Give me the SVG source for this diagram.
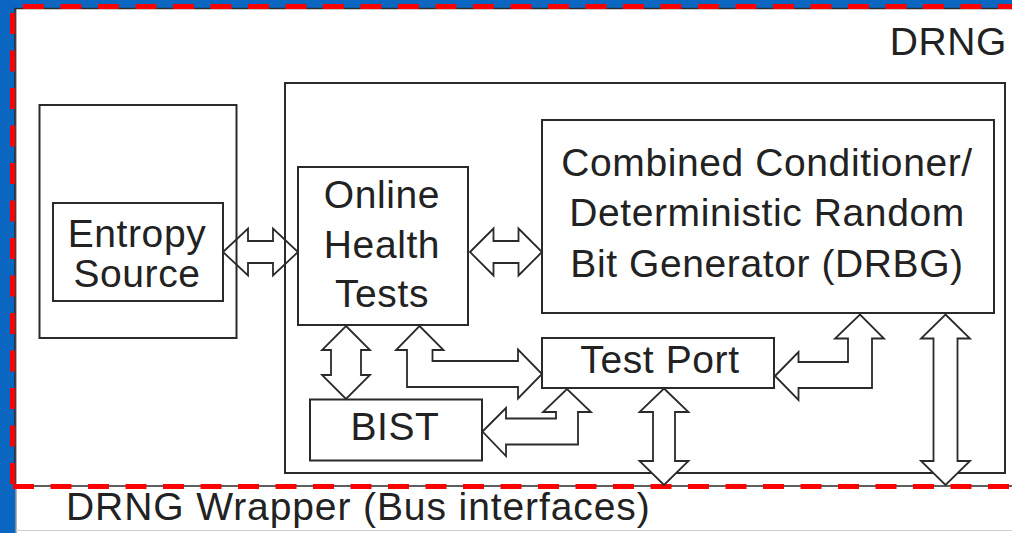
<svg xmlns="http://www.w3.org/2000/svg" width="1012" height="533" viewBox="0 0 1012 533">
  <style>
    .box { fill: #ffffff; stroke: #2a2a2a; stroke-width: 2; }
    .frame { fill: none; stroke: #2a2a2a; stroke-width: 2; }
    .arrow { fill: #ffffff; stroke: #2a2a2a; stroke-width: 1.8; stroke-linejoin: miter; }
    .arrow-open { fill: none; stroke: #2a2a2a; stroke-width: 1.8; }
    .lbl { font-family: "Liberation Sans", Arial, sans-serif; font-size: 39px; fill: #222222; letter-spacing: 0.6px; }
    .mid { text-anchor: middle; }
    .dash { fill: none; stroke: #ff0000; stroke-width: 5; stroke-dasharray: 21 16.5; }
  </style>

  <!-- background -->
  <rect x="0" y="0" width="1012" height="533" fill="#0b66c2"/>
  <rect x="16" y="8" width="996" height="525" fill="#ffffff"/>
  <line x1="16" y1="8" x2="16" y2="533" stroke="#9a9a9a" stroke-width="1.5"/>
  <line x1="16" y1="530.5" x2="1012" y2="530.5" stroke="#cfcfcf" stroke-width="1"/>

  <!-- DRNG wrapper boundary -->
  <g id="drng-wrapper">
    <path d="M1012,8.5 H15 V486 H1012" fill="none" stroke="#2a2a2a" stroke-width="1.5"/>
    <line class="dash" x1="23" y1="6.5" x2="1012" y2="6.5"/>
    <line class="dash" x1="12.5" y1="13" x2="12.5" y2="486"/>
    <line class="dash" x1="13" y1="486.5" x2="1012" y2="486.5"/>
    <text class="lbl" x="66" y="520" style="letter-spacing:0.9px">DRNG Wrapper (Bus interfaces)</text>
  </g>

  <!-- DRNG block -->
  <g id="drng">
    <rect class="frame" x="285" y="83" width="720" height="390"/>
    <text class="lbl" x="1007" y="55" text-anchor="end">DRNG</text>
  </g>

  <g id="entropy-block">
    <rect class="box" x="39.5" y="105" width="197" height="233"/>
  </g>

  <g id="entropy-source">
    <rect class="box" x="53" y="203" width="170" height="98"/>
    <text class="lbl mid" x="137" y="247">Entropy</text>
    <text class="lbl mid" x="137" y="287">Source</text>
  </g>

  <g id="online-health-tests">
    <rect class="box" x="298" y="167" width="170" height="158"/>
    <text class="lbl mid" x="382" y="208">Online</text>
    <text class="lbl mid" x="382" y="258">Health</text>
    <text class="lbl mid" x="382" y="307">Tests</text>
  </g>

  <g id="drbg">
    <rect class="box" x="542" y="120" width="452" height="193"/>
    <text class="lbl mid" x="767" y="176">Combined Conditioner/</text>
    <text class="lbl mid" x="767" y="226">Deterministic Random</text>
    <text class="lbl mid" x="767" y="277">Bit Generator (DRBG)</text>
  </g>

  <g id="test-port">
    <rect class="box" x="542" y="338" width="232" height="50"/>
    <text class="lbl mid" x="660" y="373">Test Port</text>
  </g>

  <g id="bist">
    <rect class="box" x="310" y="399.5" width="172" height="61"/>
    <text class="lbl mid" x="395" y="440">BIST</text>
  </g>

  <!-- connectors (block arrows) -->
  <g id="connectors">
    <polygon class="arrow-open" points="223,252 248,228.5 248,241 273,241 273,228.5 298,252 273,275.5 273,263 248,263 248,275.5"/>
    <polygon class="arrow" points="470,252 493.5,228.5 493.5,241 518.5,241 518.5,228.5 542,252 518.5,275.5 518.5,263 493.5,263 493.5,275.5"/>
    <polygon class="arrow" points="346,326 370,350 361,350 361,375 370,375 346,399 322,375 331,375 331,350 322,350"/>
    <polygon class="arrow" points="419.5,326 443.5,350 432.5,350 432.5,361 518,361 518,349.5 542,374 518,398.5 518,387 407,387 407,350 396,350"/>
    <polygon class="arrow" points="482.5,431.5 506,408 506,418.5 556,418.5 556,412 543,412 567,389 591,412 578,412 578,444.5 506,444.5 506,456"/>
    <polygon class="arrow" points="775,376 798.5,352 798.5,362 848,362 848,338.5 835,338.5 860,314.5 884,338.5 872,338.5 872,388 798.5,388 798.5,400"/>
    <polygon class="arrow" points="664,388.5 688.5,412 675,412 675,461 688.5,461 664,485 639.5,461 653,461 653,412 639.5,412"/>
    <polygon class="arrow" points="945.5,314.5 970,338.5 957.5,338.5 957.5,461 970,461 945.5,485 921,461 933.5,461 933.5,338.5 921,338.5"/>
  </g>
</svg>
